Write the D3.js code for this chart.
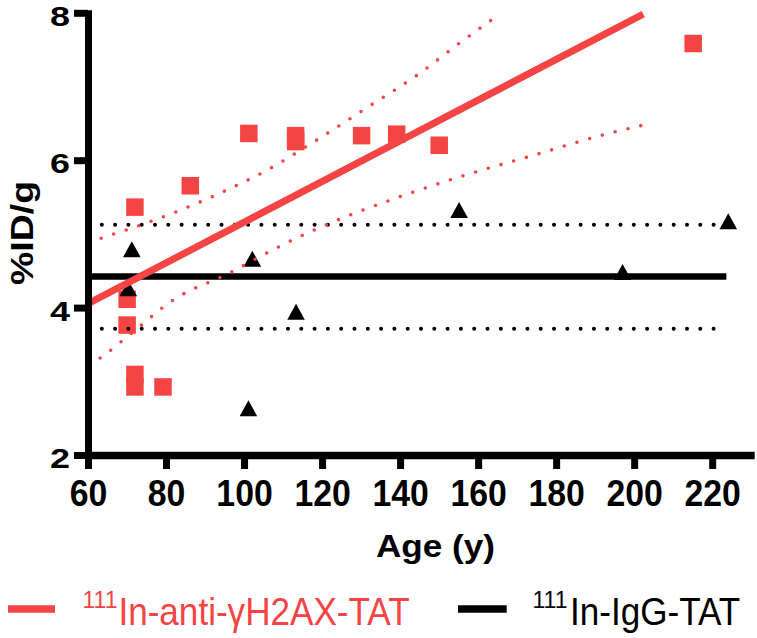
<!DOCTYPE html>
<html><head><meta charset="utf-8">
<script src="https://cdn.jsdelivr.net/npm/d3@7"></script>
<style>
body{margin:0;background:#fff}
svg{display:block}
text{font-family:"Liberation Sans",Arial,Helvetica,sans-serif}
</style>
</head><body>
<svg id="c" width="757" height="638"></svg>
<script>
// ---- data ----
const xTicks = [60, 80, 100, 120, 140, 160, 180, 200, 220];
const yTicks = [2, 4, 6, 8];

// 111In-anti-γH2AX-TAT (red squares)
const h2axAge = [71.9, 69.9, 69.9, 71.9, 71.9, 79.1, 86.1, 101.1, 113.1, 113.1, 130.0, 139.0, 149.9, 215.0];
const h2axVal = [5.37, 4.12, 3.77, 3.10, 2.93, 2.93, 5.66, 6.37, 6.34, 6.26, 6.34, 6.36, 6.21, 7.59];

// 111In-IgG-TAT (black triangles)
const iggAge = [71.1, 70.2, 102.0, 113.2, 101.0, 155.0, 224.0, 196.9];
const iggVal = [4.80, 4.27, 4.67, 3.95, 2.64, 5.33, 5.18, 4.49];

// regression line and 95% confidence band (red)
const fitAge = [60, 202.2];
const fitVal = [4.065, 7.99];
const upperAge = [60.1, 62.9, 71.9, 81.7, 93.7, 105.7, 117.3, 131.4, 145.0, 155.2, 163.6];
const upperVal = [4.88, 4.94, 5.10, 5.29, 5.56, 5.87, 6.24, 6.72, 7.19, 7.60, 7.92];
const lowerAge = [60.1, 62.9, 70.6, 81.7, 96.3, 108.3, 122.7, 135.5, 154.5, 173.2, 191.9, 201.9];
const lowerVal = [3.23, 3.32, 3.64, 4.11, 4.48, 4.82, 5.17, 5.43, 5.77, 6.06, 6.35, 6.48];

// mean and band (black)
const meanAge = [60, 223.5];
const meanVal = [4.43, 4.43];
const meanUpperVal = [5.13, 5.13];
const meanLowerVal = [3.72, 3.72];

const legendSup = "111";
const legendNames = ["In-anti-\u03B3H2AX-TAT", "In-IgG-TAT"];
const xTitle = "Age (y)";
const yTitle = "%ID/g";

// ---- drawing ----
const RED = "#F44444";
const svg = d3.select("#c");
const x = d3.scaleLinear().domain([60, 230]).range([88.5, 751.7]);
const y = d3.scaleLinear().domain([2, 8]).range([455.5, 13.3]);

const zip = (a, b) => a.map((v, i) => [v, b[i]]);
const line = d3.line().x(d => x(d[0])).y(d => y(d[1]));
const curve = d3.line().x(d => x(d[0])).y(d => y(d[1])).curve(d3.curveMonotoneX);

// markers
const sq = d3.symbol().type(d3.symbolSquare).size(17.5 * 17.5);
svg.append("g").selectAll("path").data(zip(h2axAge, h2axVal)).join("path")
  .attr("d", sq).attr("fill", RED)
  .attr("transform", d => `translate(${x(d[0])},${y(d[1])})`);

const tri = { draw(ctx, size) { const s = Math.sqrt(size); ctx.moveTo(0, -s / 2); ctx.lineTo(s * 0.55, s / 2); ctx.lineTo(-s * 0.55, s / 2); ctx.closePath(); } };
svg.append("g").selectAll("path").data(zip(iggAge, iggVal)).join("path")
  .attr("d", d3.symbol().type(tri).size(16 * 16)).attr("fill", "#000")
  .attr("transform", d => `translate(${x(d[0])},${y(d[1])})`);

// black mean and dotted band
svg.append("path").attr("d", line(zip(meanAge, meanUpperVal)))
  .attr("stroke", "#000").attr("stroke-width", 4).attr("stroke-linecap", "round")
  .attr("stroke-dasharray", "0 13.3").attr("fill", "none");
svg.append("path").attr("d", line(zip(meanAge, meanLowerVal)))
  .attr("stroke", "#000").attr("stroke-width", 4).attr("stroke-linecap", "round")
  .attr("stroke-dasharray", "0 13.3").attr("fill", "none");
svg.append("path").attr("d", line(zip(meanAge, meanVal)))
  .attr("stroke", "#000").attr("stroke-width", 6.5).attr("fill", "none");

// red band and fit
[zip(upperAge, upperVal), zip(lowerAge, lowerVal)].forEach(pts => {
  svg.append("path").attr("d", curve(pts))
    .attr("stroke", RED).attr("stroke-width", 3.6).attr("stroke-linecap", "round")
    .attr("stroke-dasharray", "0 13.2").attr("fill", "none");
});
svg.append("path").attr("d", line(zip(fitAge, fitVal)))
  .attr("stroke", RED).attr("stroke-width", 7).attr("fill", "none");

// axes
const gx = svg.append("g").attr("transform", `translate(-0.5,${y(2) - 0.5})`)
  .call(d3.axisBottom(x).tickValues(xTicks).tickSize(14).tickSizeOuter(0));
gx.select(".domain").remove();
gx.selectAll(".tick line").attr("stroke-width", 7);
gx.selectAll(".tick text")
  .attr("y", 51).attr("dy", 0)
  .attr("font-size", 36).attr("font-weight", "bold").attr("fill", "#000")
  .attr("textLength", d => String(d).length * 18.8).attr("lengthAdjust", "spacingAndGlyphs");

const gy = svg.append("g").attr("transform", `translate(${x(60) - 0.5},-0.5)`)
  .call(d3.axisLeft(y).tickValues(yTicks).tickFormat(d3.format("d")).tickSize(14).tickPadding(4).tickSizeOuter(0));
gy.select(".domain").remove();
gy.selectAll(".tick line").attr("stroke-width", 7);
gy.selectAll(".tick text")
  .attr("dy", "0.45em")
  .attr("font-size", 28).attr("font-weight", "bold").attr("fill", "#000")
  .attr("textLength", 20).attr("lengthAdjust", "spacingAndGlyphs");

// axis lines
svg.append("line").attr("x1", x(60) - 3.5).attr("x2", x(230) + 3).attr("y1", y(2)).attr("y2", y(2))
  .attr("stroke", "#000").attr("stroke-width", 7.5);
svg.append("line").attr("x1", x(60)).attr("x2", x(60)).attr("y1", y(8) - 3).attr("y2", y(2) + 3.5)
  .attr("stroke", "#000").attr("stroke-width", 7);

// titles
svg.append("text").text(xTitle).attr("x", 435.5).attr("y", 556.7)
  .attr("text-anchor", "middle").attr("font-size", 31).attr("font-weight", "bold")
  .attr("textLength", 119).attr("lengthAdjust", "spacingAndGlyphs");
svg.append("text").text(yTitle)
  .attr("transform", "translate(33,233) rotate(-90)")
  .attr("text-anchor", "middle").attr("font-size", 32).attr("font-weight", "bold")
  .attr("textLength", 104).attr("lengthAdjust", "spacingAndGlyphs");

// legend
const legend = [
  { color: RED, x0: 8, x1: 55, supX: 82.5, nameX: 118.4, sx: 0.90 },
  { color: "#000", x0: 458, x1: 506.7, supX: 532.5, nameX: 570, sx: 0.90 }
];
legend.forEach((l, i) => {
  svg.append("line").attr("x1", l.x0).attr("x2", l.x1).attr("y1", 609).attr("y2", 609)
    .attr("stroke", l.color).attr("stroke-width", 7.5);
  svg.append("text").text(legendSup).attr("x", l.supX).attr("y", 608)
    .attr("font-size", 23).attr("fill", l.color);
  svg.append("text").text(legendNames[i])
    .attr("transform", `translate(${l.nameX},624.5) scale(${l.sx},1)`)
    .attr("font-size", 39).attr("fill", l.color);
});
</script>
</body></html>
